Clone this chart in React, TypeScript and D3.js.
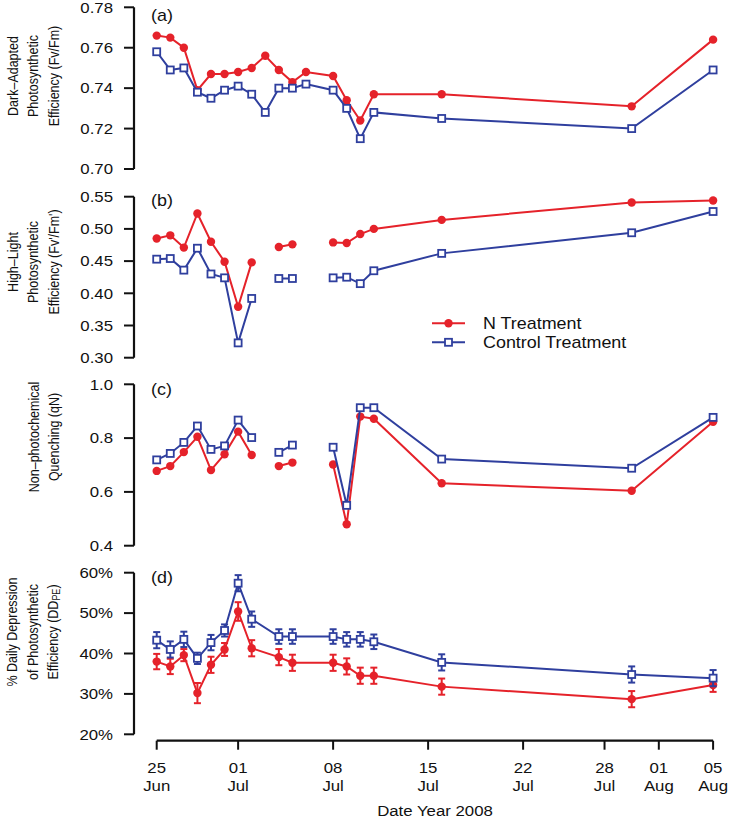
import React from "react";
import * as d3 from "d3";

const dates = ["2008-06-25","2008-06-26","2008-06-27","2008-06-28","2008-06-29","2008-06-30","2008-07-01","2008-07-02","2008-07-03","2008-07-04","2008-07-05","2008-07-06","2008-07-08","2008-07-09","2008-07-10","2008-07-11","2008-07-16","2008-07-30","2008-08-05"];

const fvfmN = [0.766,0.765,0.760,0.739,0.747,0.747,0.748,0.750,0.756,0.749,0.743,0.748,0.746,0.734,0.724,0.737,0.737,0.731,0.764];
const fvfmC = [0.758,0.749,0.750,0.738,0.735,0.739,0.741,0.737,0.728,0.740,0.740,0.742,0.739,0.730,0.715,0.728,0.725,0.720,0.749];

const hlN = [0.485,0.490,0.471,0.524,0.480,0.449,0.379,0.448,null,0.472,0.476,null,0.479,0.478,0.492,0.500,0.514,0.541,0.544];
const hlC = [0.453,0.454,0.436,0.470,0.430,0.424,0.323,0.392,null,0.423,0.423,null,0.424,0.425,0.415,0.435,0.462,0.494,0.527];

const qnN = [0.678,0.696,0.748,0.805,0.681,0.740,0.824,0.737,null,0.696,0.709,null,0.702,0.480,0.880,0.872,0.632,0.604,0.861];
const qnC = [0.719,0.743,0.784,0.845,0.758,0.771,0.867,0.802,null,0.747,0.774,null,0.766,0.550,0.913,0.913,0.722,0.688,0.877];

const ddN = [38.0,36.8,39.6,30.2,37.2,41.0,50.4,41.3,null,39.1,37.7,null,37.7,36.8,34.5,34.5,31.8,28.7,32.2];
const ddC = [43.3,41.0,43.5,38.8,42.7,45.7,57.4,48.5,null,44.2,44.2,null,44.2,43.5,43.5,42.9,37.8,34.8,33.9];
const ddNErr = [1.9,1.9,1.5,2.5,2.0,1.6,2.3,2.0,null,2.0,2.0,null,2.0,2.0,2.0,2.0,2.0,2.0,1.7];
const ddCErr = [2.0,2.0,1.9,1.4,1.9,1.5,2.0,1.9,null,1.8,1.8,null,1.8,1.8,1.8,1.8,2.0,2.0,2.0];

const xTickDates = ["2008-06-25","2008-07-01","2008-07-08","2008-07-15","2008-07-22","2008-07-28","2008-08-01","2008-08-05"];

const ticksA = [0.70,0.72,0.74,0.76,0.78];
const ticksB = [0.30,0.35,0.40,0.45,0.50,0.55];
const ticksC = [0.4,0.6,0.8,1.0];
const ticksD = [20,30,40,50,60];

const RED = "#e5222a";
const BLUE = "#2f3f9e";
const FONT = "'Liberation Sans', Arial, sans-serif";
const SX = 1.12;

const parse = d3.timeParse("%Y-%m-%d");
const xDates = dates.map((d) => parse(d) as Date);

const x = d3.scaleTime()
  .domain([parse("2008-06-25") as Date, parse("2008-08-05") as Date])
  .range([156.7, 713.1]);

const AXIS_X = 134;

type Panel = {
  label: string;
  domain: [number, number];
  range: [number, number];
  ticks: number[];
  fmt: (v: number) => string;
  title: { x: number; text: React.ReactNode }[];
  titleY: number;
  labelY: number;
};

const panels: Panel[] = [
  { label: "(a)", domain: [0.70, 0.78], range: [169, 7.3], ticks: ticksA, fmt: d3.format(".2f"),
    title: [{ x: 18, text: "Dark\u2013Adapted" }, { x: 38, text: "Photosynthetic" }, { x: 59, text: "Efficiency (Fv/Fm)" }], titleY: 76, labelY: 21 },
  { label: "(b)", domain: [0.30, 0.55], range: [357.7, 196.7], ticks: ticksB, fmt: d3.format(".2f"),
    title: [{ x: 18, text: "High\u2013Light" }, { x: 38, text: "Photosynthetic" }, { x: 59, text: "Efficiency (Fv'/Fm')" }], titleY: 262, labelY: 206 },
  { label: "(c)", domain: [0.4, 1.0], range: [545.7, 384.3], ticks: ticksC, fmt: d3.format(".1f"),
    title: [{ x: 39, text: "Non\u2013photochemical" }, { x: 59, text: "Quenching (qN)" }], titleY: 437, labelY: 395 },
  { label: "(d)", domain: [20, 60], range: [734.3, 572.7], ticks: ticksD, fmt: (v: number) => `${v}%`,
    title: [{ x: 17, text: "% Daily Depression" }, { x: 38, text: "of Photosynthetic" },
      { x: 58, text: <>Efficiency (DD<tspan fontSize="9" dy="2">PE</tspan><tspan dy="-2">)</tspan></> }], titleY: 632, labelY: 583 },
];

const seriesByPanel: [(number | null)[], (number | null)[], boolean][] = [
  [fvfmN, fvfmC, false],
  [hlN, hlC, false],
  [qnN, qnC, false],
  [ddN, ddC, true],
];

function SText({ x: tx, y, anchor = "start", size = 15, children }: any) {
  return (
    <text transform={`translate(${tx},${y}) scale(${SX},1)`} textAnchor={anchor} fontSize={size} fontFamily={FONT} fill="#111">
      {children}
    </text>
  );
}

function Series({ vals, y, color, kind, connectAll, errs }: any) {
  const pts = vals.map((v: number | null, i: number) => ({ d: xDates[i], v, e: errs ? errs[i] : null }));
  const line = d3.line<any>()
    .defined((p) => p.v != null)
    .x((p) => x(p.d))
    .y((p) => y(p.v));
  const data = connectAll ? pts.filter((p: any) => p.v != null) : pts;
  const valid = pts.filter((p: any) => p.v != null);
  return (
    <g>
      <path d={line(data) || ""} fill="none" stroke={color} strokeWidth={2} />
      {errs && valid.map((p: any, i: number) => {
        const cx = x(p.d);
        const y1 = y(p.v - p.e);
        const y2 = y(p.v + p.e);
        return (
          <g key={"e" + i} stroke={color} strokeWidth={2}>
            <line x1={cx} x2={cx} y1={y1} y2={y2} />
            <line x1={cx - 3.5} x2={cx + 3.5} y1={y1} y2={y1} />
            <line x1={cx - 3.5} x2={cx + 3.5} y1={y2} y2={y2} />
          </g>
        );
      })}
      {valid.map((p: any, i: number) =>
        kind === "circle" ? (
          <circle key={i} cx={x(p.d)} cy={y(p.v)} r={4.2} fill={color} />
        ) : (
          <rect key={i} x={x(p.d) - 3.5} y={y(p.v) - 3.5} width={7} height={7} fill="white" stroke={color} strokeWidth={1.8} />
        )
      )}
    </g>
  );
}

export default function App() {
  const fmtDay = d3.timeFormat("%d");
  const fmtMon = d3.timeFormat("%b");
  const xTicks = xTickDates.map((d) => parse(d) as Date);
  const xAxisY = 740.7;
  return (
    <svg width={733} height={819} style={{ position: "absolute", left: 0, top: 0, background: "white" }}>
      {panels.map((p, pi) => {
        const y = d3.scaleLinear().domain(p.domain).range(p.range);
        const [nVals, cVals, isD] = seriesByPanel[pi];
        return (
          <g key={pi}>
            <line x1={AXIS_X} x2={AXIS_X} y1={y(p.ticks[0])} y2={y(p.ticks[p.ticks.length - 1])} stroke="#111" strokeWidth={2.2} />
            {p.ticks.map((t) => (
              <g key={t}>
                <line x1={AXIS_X - 10} x2={AXIS_X} y1={y(t)} y2={y(t)} stroke="#111" strokeWidth={2} />
                <SText x={113} y={y(t) + 5.3} anchor="end">{p.fmt(t)}</SText>
              </g>
            ))}
            {p.title.map((t, ti) => (
              <text key={ti} transform={`translate(${t.x},${p.titleY}) rotate(-90) scale(1,${SX})`} textAnchor="middle" fontSize={12.5} fontFamily={FONT} fill="#111">
                {t.text}
              </text>
            ))}
            <SText x={151} y={p.labelY} size={16}>{p.label}</SText>
            <Series vals={nVals} y={y} color={RED} kind="circle" connectAll={isD} errs={isD ? ddNErr : null} />
            <Series vals={cVals} y={y} color={BLUE} kind="square" connectAll={isD} errs={isD ? ddCErr : null} />
          </g>
        );
      })}
      {/* legend */}
      <g>
        <line x1={432} x2={465} y1={323.3} y2={323.3} stroke={RED} strokeWidth={2} />
        <circle cx={448.5} cy={323.3} r={4.2} fill={RED} />
        <SText x={483} y={329} size={16}>N Treatment</SText>
        <line x1={432} x2={465} y1={342.3} y2={342.3} stroke={BLUE} strokeWidth={2} />
        <rect x={445} y={338.8} width={7} height={7} fill="white" stroke={BLUE} strokeWidth={1.8} />
        <SText x={483} y={348} size={16}>Control Treatment</SText>
      </g>
      {/* x axis */}
      <line x1={x(xTicks[0])} x2={x(xTicks[xTicks.length - 1])} y1={xAxisY} y2={xAxisY} stroke="#111" strokeWidth={2.2} />
      {xTicks.map((d, i) => (
        <g key={i}>
          <line x1={x(d)} x2={x(d)} y1={xAxisY} y2={xAxisY + 9} stroke="#111" strokeWidth={2} />
          <SText x={x(d)} y={773} anchor="middle">{fmtDay(d)}</SText>
          <SText x={x(d)} y={791} anchor="middle">{fmtMon(d)}</SText>
        </g>
      ))}
      <SText x={435} y={816} anchor="middle" size={15}>Date Year 2008</SText>
    </svg>
  );
}
